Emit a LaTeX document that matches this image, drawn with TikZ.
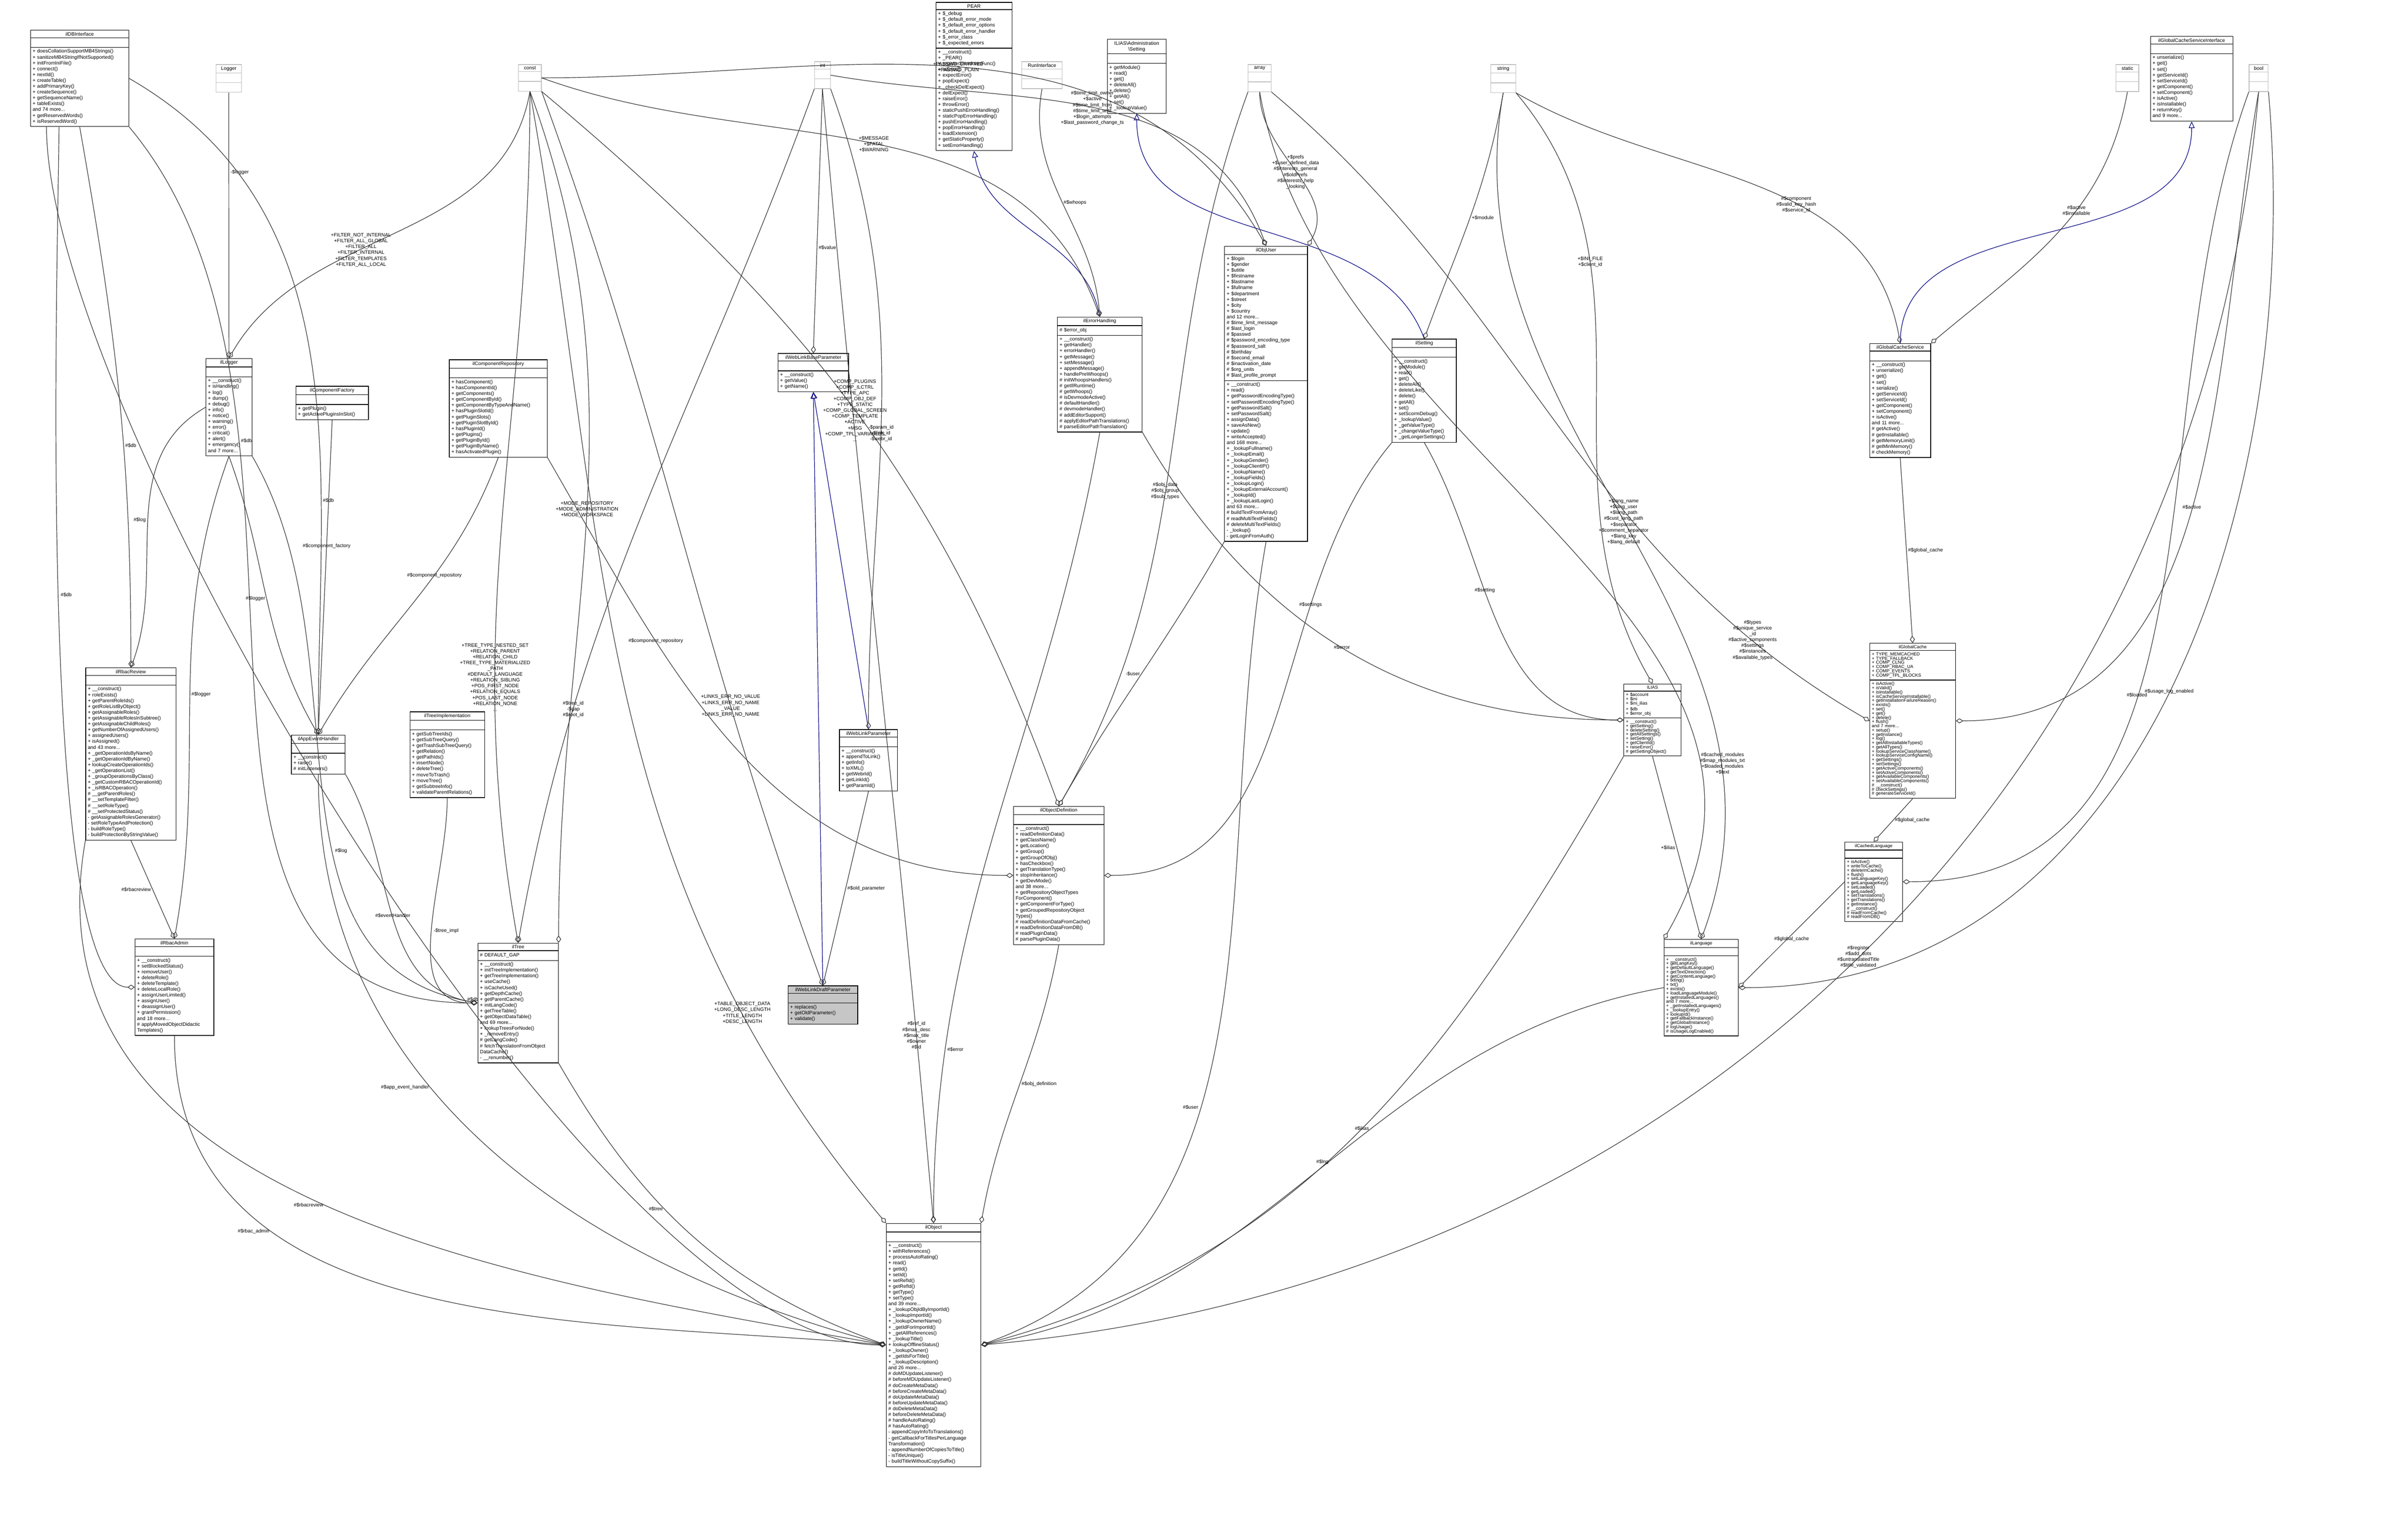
\documentclass[tikz,border=0pt]{standalone}
\usepackage{fontspec}
\setmainfont{Liberation Sans}
\usetikzlibrary{arrows.meta,shapes.multipart,positioning}

\newcommand{\dox}{\fontsize{3.4}{4.0}\selectfont}
\newcommand{\doxs}{\fontsize{3.1}{2.9}\selectfont}
% a class box: name, x, y, width, title, attributes, operations
\newcommand{\umlclass}[8][]{%
\node[cls,#1,text width=#5] (#2) at (#3,#4) {\centering #6\par\nodepart{two}#7\strut\nodepart{three}#8\strut};}

\begin{document}
\begin{tikzpicture}
[font=\dox,
% STYLES
cls/.style={rectangle split, rectangle split parts=3, draw, anchor=north west, align=left, inner xsep=0.05cm, inner ysep=0.04cm, fill=white},
% external types drawn in grey
ext/.style={draw=gray!50},
% the class the diagram is about
focus/.style={fill=gray!45},
% boxes set with tighter lines
small/.style={font=\doxs},
% aggregation and inheritance links
agg/.style={draw=black!80, -{Diamond[open,length=5pt,width=3.4pt]}},
inh/.style={draw=blue!50!black, -{Triangle[open,length=4.5pt,width=4pt]}},
lbl/.style={align=center, inner sep=1pt}]

\useasboundingbox (0,0) rectangle (58.08,-36.63);

% Draw classes
\umlclass{dbi}{0.73}{-0.72}{2.27cm}{ilDBInterface}{}{+ doesCollationSupportMB4Strings()\\+ sanitizeMB4StringIfNotSupported()\\+ initFromIniFile()\\+ connect()\\+ nextId()\\+ createTable()\\+ addPrimaryKey()\\+ createSequence()\\+ getSequenceName()\\+ tableExists()\\and 74 more...\\+ getReservedWords()\\+ isReservedWord()}
\umlclass[ext]{logger}{5.20}{-1.55}{0.52cm}{Logger}{}{}
\umlclass{illogger}{4.96}{-8.64}{1.01cm}{ilLogger}{}{+ \_\_construct()\\+ isHandling()\\+ log()\\+ dump()\\+ debug()\\+ info()\\+ notice()\\+ warning()\\+ error()\\+ critical()\\+ alert()\\+ emergency()\\and 7 more...}
\umlclass{compfactory}{7.13}{-9.31}{1.65cm}{ilComponentFactory}{}{+ getPlugin()\\+ getActivePluginsInSlot()}
\umlclass[ext]{const}{12.50}{-1.55}{0.45cm}{const}{}{}
\umlclass{comprepo}{10.83}{-8.67}{2.26cm}{ilComponentRepository}{}{+ hasComponent()\\+ hasComponentId()\\+ getComponents()\\+ getComponentById()\\+ getComponentByTypeAndName()\\+ hasPluginSlotId()\\+ getPluginSlots()\\+ getPluginSlotById()\\+ hasPluginId()\\+ getPlugins()\\+ getPluginById()\\+ getPluginByName()\\+ hasActivatedPlugin()}
\umlclass{rbacreview}{2.06}{-16.10}{2.08cm}{ilRbacReview}{}{+ \_\_construct()\\+ roleExists()\\+ getParentRoleIds()\\+ getRoleListByObject()\\+ getAssignableRoles()\\+ getAssignableRolesInSubtree()\\+ getAssignableChildRoles()\\+ getNumberOfAssignedUsers()\\+ assignedUsers()\\+ isAssigned()\\and 43 more...\\+ \_getOperationIdsByName()\\+ \_getOperationIdByName()\\+ lookupCreateOperationIds()\\+ \_getOperationList()\\+ \_groupOperationsByClass()\\+ \_getCustomRBACOperationId()\\+ \_isRBACOperation()\\\# \_\_getParentRoles()\\\# \_\_setTemplateFilter()\\\# \_\_setRoleType()\\\# \_\_setProtectedStatus()\\- getAssignableRolesGenerator()\\- setRoleTypeAndProtection()\\- buildRoleType()\\- buildProtectionByStringValue()}
\umlclass{rbacadmin}{3.25}{-22.64}{1.80cm}{ilRbacAdmin}{}{+ \_\_construct()\\+ setBlockedStatus()\\+ removeUser()\\+ deleteRole()\\+ deleteTemplate()\\+ deleteLocalRole()\\+ assignUserLimited()\\+ assignUser()\\+ deassignUser()\\+ grantPermission()\\and 18 more...\\\# applyMovedObjectDidactic\\Templates()}
\umlclass{appevent}{7.02}{-17.72}{1.20cm}{ilAppEventHandler}{}{+ \_\_construct()\\+ raise()\\\# initListeners()}
\umlclass{treeimpl}{9.88}{-17.16}{1.70cm}{ilTreeImplementation}{}{+ getSubTreeIds()\\+ getSubTreeQuery()\\+ getTrashSubTreeQuery()\\+ getRelation()\\+ getPathIds()\\+ insertNode()\\+ deleteTree()\\+ moveToTrash()\\+ moveTree()\\+ getSubtreeInfo()\\+ validateParentRelations()}
\umlclass{tree}{11.52}{-22.74}{1.84cm}{ilTree}{\# DEFAULT\_GAP}{+ \_\_construct()\\+ initTreeImplementation()\\+ getTreeImplementation()\\+ useCache()\\+ isCacheUsed()\\+ getDepthCache()\\+ getParentCache()\\+ initLangCode()\\+ getTreeTable()\\+ getObjectDataTable()\\and 69 more...\\+ lookupTreesForNode()\\+ \_removeEntry()\\\# getLangCode()\\\# fetchTranslationFromObject\\DataCache()\\- \_\_renumber()}
\umlclass[ext]{int}{19.64}{-1.48}{0.28cm}{int}{}{}
\umlclass{wlbase}{18.76}{-8.52}{1.60cm}{ilWebLinkBaseParameter}{}{+ \_\_construct()\\+ getValue()\\+ getName()}
\umlclass{wlparam}{20.24}{-17.59}{1.30cm}{ilWebLinkParameter}{}{+ \_\_construct()\\+ appendToLink()\\+ getInfo()\\+ toXML()\\+ getWebrId()\\+ getLinkId()\\+ getParamId()}
\umlclass[focus]{wldraft}{19.00}{-23.77}{1.58cm}{ilWebLinkDraftParameter}{}{+ replaces()\\+ getOldParameter()\\+ validate()}
\umlclass{object}{21.37}{-29.50}{2.18cm}{ilObject}{}{+ \_\_construct()\\+ withReferences()\\+ processAutoRating()\\+ read()\\+ getId()\\+ setId()\\+ setRefId()\\+ getRefId()\\+ getType()\\+ setType()\\and 39 more...\\+ \_lookupObjIdByImportId()\\+ \_lookupImportId()\\+ \_lookupOwnerName()\\+ \_getIdForImportId()\\+ \_getAllReferences()\\+ \_lookupTitle()\\+ lookupOfflineStatus()\\+ \_lookupOwner()\\+ \_getIdsForTitle()\\+ \_lookupDescription()\\and 26 more...\\\# doMDUpdateListener()\\\# beforeMDUpdateListener()\\\# doCreateMetaData()\\\# beforeCreateMetaData()\\\# doUpdateMetaData()\\\# beforeUpdateMetaData()\\\# doDeleteMetaData()\\\# beforeDeleteMetaData()\\\# handleAutoRating()\\\# hasAutoRating()\\- appendCopyInfoToTranslations()\\- getCallbackForTitlesPerLanguage\\Transformation()\\- appendNumberOfCopiesToTitle()\\- isTitleUnique()\\- buildTitleWithoutCopySuffix()}
\umlclass{pear}{22.57}{-0.05}{1.73cm}{PEAR}{+ \$\_debug\\+ \$\_default\_error\_mode\\+ \$\_default\_error\_options\\+ \$\_default\_error\_handler\\+ \$\_error\_class\\+ \$\_expected\_errors}{+ \_\_construct()\\+ \_PEAR()\\+ registerShutdownFunc()\\+ isError()\\+ expectError()\\+ popExpect()\\+ \_checkDelExpect()\\+ delExpect()\\+ raiseError()\\+ throwError()\\+ staticPushErrorHandling()\\+ staticPopErrorHandling()\\+ pushErrorHandling()\\+ popErrorHandling()\\+ loadExtension()\\+ getStaticProperty()\\+ setErrorHandling()}
\umlclass[ext]{runif}{24.64}{-1.48}{0.87cm}{RunInterface}{}{}
\umlclass{admsetting}{26.70}{-0.94}{1.32cm}{ILIAS\textbackslash Administration\\\textbackslash Setting}{}{+ getModule()\\+ read()\\+ get()\\+ deleteAll()\\+ delete()\\+ getAll()\\+ set()\\+ \_lookupValue()}
\umlclass{errhandling}{25.50}{-7.64}{1.94cm}{ilErrorHandling}{\# \$error\_obj}{+ \_\_construct()\\+ getHandler()\\+ errorHandler()\\+ getMessage()\\+ setMessage()\\+ appendMessage()\\+ handlePreWhoops()\\\# initWhoopsHandlers()\\\# getIlRuntime()\\\# getWhoops()\\\# isDevmodeActive()\\\# defaultHandler()\\\# devmodeHandler()\\\# addEditorSupport()\\\# applyEditorPathTranslations()\\\# parseEditorPathTranslation()}
\umlclass{objdef}{24.44}{-19.44}{2.08cm}{ilObjectDefinition}{}{+ \_\_construct()\\+ readDefinitionData()\\+ getClassName()\\+ getLocation()\\+ getGroup()\\+ getGroupOfObj()\\+ hasCheckbox()\\+ getTranslationType()\\+ stopInheritance()\\+ getDevMode()\\and 38 more...\\+ getRepositoryObjectTypes\\ForComponent()\\+ getComponentForType()\\+ getGroupedRepositoryObject\\Types()\\\# readDefinitionDataFromCache()\\\# readDefinitionDataFromDB()\\\# readPluginData()\\\# parsePluginData()}
\umlclass[ext]{array}{30.10}{-1.55}{0.45cm}{array}{}{}
\umlclass{objuser}{29.53}{-5.93}{1.90cm}{ilObjUser}{+ \$login\\+ \$gender\\+ \$utitle\\+ \$firstname\\+ \$lastname\\+ \$fullname\\+ \$department\\+ \$street\\+ \$city\\+ \$country\\and 12 more...\\\# \$time\_limit\_message\\\# \$last\_login\\\# \$passwd\\\# \$password\_encoding\_type\\\# \$password\_salt\\\# \$birthday\\\# \$second\_email\\\# \$inactivation\_date\\\# \$org\_units\\\# \$last\_profile\_prompt}{+ \_\_construct()\\+ read()\\+ getPasswordEncodingType()\\+ setPasswordEncodingType()\\+ getPasswordSalt()\\+ setPasswordSalt()\\+ assignData()\\+ saveAsNew()\\+ update()\\+ writeAccepted()\\and 168 more...\\+ \_lookupFullname()\\+ \_lookupEmail()\\+ \_lookupGender()\\+ \_lookupClientIP()\\+ \_lookupName()\\+ \_lookupFields()\\+ \_lookupLogin()\\+ \_lookupExternalAccount()\\+ \_lookupId()\\+ \_lookupLastLogin()\\and 63 more...\\\# buildTextFromArray()\\\# readMultiTextFields()\\\# deleteMultiTextFields()\\- \_lookup()\\- getLoginFromAuth()}
\umlclass[ext]{string}{35.95}{-1.55}{0.50cm}{string}{}{}
\umlclass{setting}{33.57}{-8.17}{1.45cm}{ilSetting}{}{+ \_\_construct()\\+ getModule()\\+ read()\\+ get()\\+ deleteAll()\\+ deleteLike()\\+ delete()\\+ getAll()\\+ set()\\+ setScormDebug()\\+ \_lookupValue()\\+ \_getValueType()\\+ \_changeValueType()\\+ \_getLongerSettings()}
\umlclass[small]{ilias}{39.16}{-16.49}{1.28cm}{ILIAS}{+ \$account\\+ \$ini\\+ \$ini\_ilias\\+ \$db\\+ \$error\_obj}{+ \_\_construct()\\+ getSetting()\\+ deleteSetting()\\+ getAllSettings()\\+ setSetting()\\+ getClientId()\\+ raiseError()\\\# getSettingObject()}
\umlclass{gcservice}{45.09}{-8.28}{1.37cm}{ilGlobalCacheService}{}{+ \_\_construct()\\+ unserialize()\\+ get()\\+ set()\\+ serialize()\\+ getServiceId()\\+ setServiceId()\\+ getComponent()\\+ setComponent()\\+ isActive()\\and 11 more...\\\# getActive()\\\# getInstallable()\\\# getMemoryLimit()\\\# getMinMemory()\\\# checkMemory()}
\umlclass[small]{gcache}{45.09}{-15.51}{1.97cm}{ilGlobalCache}{+ TYPE\_MEMCACHED\\+ TYPE\_FALLBACK\\+ COMP\_CLNG\\+ COMP\_RBAC\_UA\\+ COMP\_EVENTS\\+ COMP\_TPL\_BLOCKS}{+ isActive()\\+ isValid()\\+ isInstallable()\\+ isCacheServiceInstallable()\\+ getInstallationFailureReason()\\+ exists()\\+ set()\\+ get()\\+ delete()\\+ flush()\\and 7 more...\\+ setup()\\+ getInstance()\\+ log()\\+ getAllInstallableTypes()\\+ getAllTypes()\\+ lookupServiceClassName()\\+ lookupServiceConfigName()\\+ getSettings()\\+ setSettings()\\+ getActiveComponents()\\+ setActiveComponents()\\+ getAvailableComponents()\\+ setAvailableComponents()\\\# \_\_construct()\\\# checkSettings()\\\# generateServiceId()}
\umlclass[small]{cachedlang}{44.49}{-20.30}{1.29cm}{ilCachedLanguage}{}{+ isActive()\\+ writeToCache()\\+ deleteInCache()\\+ flush()\\+ setLanguageKey()\\+ getLanguageKey()\\+ setLoaded()\\+ getLoaded()\\+ setTranslations()\\+ getTranslations()\\+ getInstance()\\\# \_\_construct()\\\# readFromCache()\\\# readFromDB()}
\umlclass[small]{language}{40.13}{-22.65}{1.69cm}{ilLanguage}{}{+ \_\_construct()\\+ getLangKey()\\+ getDefaultLanguage()\\+ getTextDirection()\\+ getContentLanguage()\\+ txtlng()\\+ txt()\\+ exists()\\+ loadLanguageModule()\\+ getInstalledLanguages()\\and 7 more...\\+ \_getInstalledLanguages()\\+ \_lookupEntry()\\+ lookupId()\\+ getFallbackInstance()\\+ getGlobalInstance()\\\# logUsage()\\\# isUsageLogEnabled()}
\umlclass{gcsiface}{51.86}{-0.87}{1.89cm}{ilGlobalCacheServiceInterface}{}{+ unserialize()\\+ get()\\+ set()\\+ getServiceId()\\+ setServiceId()\\+ getComponent()\\+ setComponent()\\+ isActive()\\+ isInstallable()\\+ returnKey()\\and 9 more...}
\umlclass[ext]{static}{51.03}{-1.55}{0.45cm}{static}{}{}
\umlclass[ext]{bool}{54.24}{-1.55}{0.36cm}{bool}{}{}

% Draw inheritance
\draw[inh] (wlparam.north) -- (wlbase.south);
\draw[inh] (wldraft.north) -- (wlbase.south);
\draw[inh] (errhandling.north) to[out=100,in=-80] (pear.south);
\draw[inh] (setting.north) to[out=110,in=-90] (admsetting.south);
\draw[inh] (gcservice.north) to[out=90,in=-90] (gcsiface.south);

% Draw aggregations
\draw[agg] (logger.south) -- node[lbl,right,pos=0.3]{-\$logger} (illogger.north);
\draw[agg] (dbi.south) to[out=-80,in=90] node[lbl,pos=0.6,right]{\#\$db} (rbacreview.north);
\draw[agg] ([xshift=-0.5cm]dbi.south) to[out=-90,in=180,looseness=0.3] node[lbl,pos=0.5,right]{\#\$db} (rbacadmin.west);
\draw[agg] ([xshift=-0.8cm]dbi.south) to[out=-90,in=180,looseness=0.5] node[lbl,pos=0.6,right]{\#\$db} (object.west);
\draw[agg] (dbi.south east) to[out=-50,in=180] node[lbl,pos=0.3,right]{\#\$db} (tree.west);
\draw[agg] (dbi.east) to[out=-30,in=90] node[lbl,pos=0.7,right]{\#\$db} (appevent.north);
\draw[agg] (illogger.south) to[out=-70,in=120] node[lbl,pos=0.5,left]{\#\$logger} (appevent.north);
\draw[agg] (illogger.south) to[out=-110,in=80] node[lbl,pos=0.5,right]{\#\$logger} (rbacadmin.north);
\draw[agg] (illogger.west) to[out=-150,in=70] node[lbl,pos=0.5,left]{\#\$log} (rbacreview.north);
\draw[agg] (illogger.south east) to[out=-60,in=170] node[lbl,pos=0.6,right]{\#\$log} (tree.west);
\draw[agg] (compfactory.south) -- node[lbl,pos=0.4]{\#\$component\_factory} (appevent.north);
\draw[agg] (comprepo.south) to[out=-110,in=60] node[lbl,pos=0.4]{\#\$component\_repository} (appevent.north);
\draw[agg] (comprepo.south east) to[out=-60,in=180] node[lbl,pos=0.3]{\#\$component\_repository} (objdef.west);
\draw[agg] (rbacreview.south) -- node[lbl,pos=0.5,left]{\#\$rbacreview} (rbacadmin.north);
\draw[agg] (rbacreview.south west) to[out=-100,in=170] node[lbl,pos=0.5,left]{\#\$rbacreview} (object.west);
\draw[agg] (rbacadmin.south) to[out=-90,in=175] node[lbl,pos=0.3,left]{\#\$rbac\_admin} (object.west);
\draw[agg] (appevent.south east) to[out=-60,in=170] node[lbl,pos=0.5]{\#\$eventHandler} (tree.west);
\draw[agg] (appevent.south) to[out=-90,in=165] node[lbl,pos=0.4,left]{\#\$app\_event\_handler} (object.west);
\draw[agg] (treeimpl.south) to[out=-90,in=180] node[lbl,pos=0.5,right]{-\$tree\_impl} (tree.west);
\draw[agg] (tree.south east) to[out=-60,in=160] node[lbl,pos=0.4,left]{\#\$tree} (object.west);
\draw[agg] (wlparam.south) -- node[lbl,pos=0.5,right]{\#\$old\_parameter} (wldraft.north);
\draw[agg] (int.south) -- node[lbl,pos=0.6,right]{\#\$value} (wlbase.north);
\draw[agg] (int.south east) to[out=-70,in=90] node[lbl,pos=0.55]{-\$param\_id\\-\$link\_id\\-\$webr\_id} (wlparam.north);
\draw[agg] (int.south west) to[out=-110,in=80] node[lbl,pos=0.75]{\#\$tree\_id\\-\$gap\\\#\$root\_id} (tree.north);
\draw[agg] (int.south) to[out=-85,in=95] node[lbl,pos=0.85]{\#\$ref\_id\\\#\$max\_desc\\\#\$max\_title\\\#\$owner\\\#\$id} (object.north);
\draw[agg] (int.east) to[out=-10,in=110] node[lbl,pos=0.5]{\#\$time\_limit\_owner\\+\$active\\\#\$time\_limit\_from\\\#\$time\_limit\_until\\+\$login\_attempts\\+\$last\_password\_change\_ts} (objuser.north);
\draw[agg] (runif.south) to[out=-100,in=95] node[lbl,pos=0.5,right]{\#\$whoops} (errhandling.north);
\draw[agg] (errhandling.south) to[out=-100,in=90] node[lbl,pos=0.8,right]{\#\$error} (object.north);
\draw[agg] (errhandling.south east) to[out=-60,in=180] node[lbl,pos=0.5]{\#\$error} (ilias.west);
\draw[agg] (objdef.south) to[out=-100,in=80] node[lbl,pos=0.5,right]{\#\$obj\_definition} (object.north east);
\draw[agg] (objuser.south) to[out=-100,in=20] node[lbl,pos=0.6,left]{\#\$user} (object.east);
\draw[agg] (objuser.south west) to[out=-120,in=60] node[lbl,pos=0.5,left]{-\$user} (objdef.north);
\draw[agg] (setting.south) to[out=-60,in=180] node[lbl,pos=0.4]{\#\$setting} (ilias.west);
\draw[agg] (setting.south west) to[out=-130,in=0] node[lbl,pos=0.3]{\#\$settings} (objdef.east);
\draw[agg] (ilias.south) -- node[lbl,pos=0.5,left]{+\$ilias} (language.north);
\draw[agg] (ilias.south west) to[out=-120,in=15] node[lbl,pos=0.5]{\#\$ilias} (object.east);
\draw[agg] (gcservice.south) -- node[lbl,pos=0.5,right]{\#\$global\_cache} (gcache.north);
\draw[agg] (gcache.south) -- node[lbl,pos=0.5,right]{\#\$global\_cache} (cachedlang.north);
\draw[agg] (cachedlang.west) -- node[lbl,pos=0.5,below]{\#\$global\_cache} (language.east);
\draw[agg] (language.west) to[out=-170,in=10] node[lbl,pos=0.5,above]{\#\$lng} (object.east);
\draw[agg] (string.south) to[out=-100,in=70] node[lbl,pos=0.5]{+\$lang\_name\\+\$lang\_user\\+\$lang\_path\\\#\$cust\_lang\_path\\+\$separator\\+\$comment\_separator\\+\$lang\_key\\+\$lang\_default} (language.north);
\draw[agg] (string.south) to[out=-100,in=70] node[lbl,pos=0.5,right]{+\$module} (setting.north);
\draw[agg] (string.south east) to[out=-30,in=100] node[lbl,pos=0.6]{\#\$component\\\#\$valid\_key\_hash\\\#\$service\_id} (gcservice.north);
\draw[agg] (string.south east) to[out=-50,in=120] node[lbl,pos=0.3]{+\$INI\_FILE\\+\$client\_id} (ilias.north);
\draw[agg] (array.south) to[out=-90,in=60] node[lbl,pos=0.5]{+\$prefs\\+\$user\_defined\_data\\\#\$interests\_general\\\#\$oldPrefs\\\#\$interests\_help\\\_looking} (objuser.north east);
\draw[agg] (array.south west) to[out=-110,in=60] node[lbl,pos=0.55]{\#\$obj\_data\\\#\$obj\_group\\\#\$sub\_types} (objdef.north);
\draw[agg] (array.south east) to[out=-40,in=150] node[lbl,pos=0.85]{\#\$types\\\#\$unique\_service\\\_id\\\#\$active\_components\\\#\$settings\\\#\$instances\\\#\$available\_types} (gcache.west);
\draw[agg] (array.south) to[out=-80,in=60] node[lbl,pos=0.8,right]{\#\$cached\_modules\\\#\$map\_modules\_txt\\+\$loaded\_modules\\+\$text} (language.north west);
\draw[agg] (static.south) to[out=-100,in=40] node[lbl,pos=0.4]{\#\$active\\\#\$installable} (gcservice.north east);
\draw[agg] (bool.south) to[out=-95,in=5] node[lbl,pos=0.5]{\#\$register\\\#\$add\_dots\\\#\$untranslatedTitle\\\#\$title\_validated} (object.east);
\draw[agg] (bool.south west) to[out=-110,in=0] node[lbl,pos=0.6]{\#\$loaded} (cachedlang.east);
\draw[agg] (bool.south) to[out=-100,in=0] node[lbl,pos=0.5]{\#\$active} (gcache.east);
\draw[agg] (bool.south east) to[out=-85,in=0] node[lbl,pos=0.5]{\#\$usage\_log\_enabled} (language.east);
\draw[agg] (const.south) to[out=-100,in=60] node[lbl,pos=0.6]{+FILTER\_NOT\_INTERNAL\\+FILTER\_ALL\_GLOBAL\\+FILTER\_ALL\\+FILTER\_INTERNAL\\+FILTER\_TEMPLATES\\+FILTER\_ALL\_LOCAL} (illogger.north);
\draw[agg] (const.south) to[out=-90,in=100] node[lbl,pos=0.7]{+TREE\_TYPE\_NESTED\_SET\\+RELATION\_PARENT\\+RELATION\_CHILD\\+TREE\_TYPE\_MATERIALIZED\\\_PATH\\\#DEFAULT\_LANGUAGE\\+RELATION\_SIBLING\\+POS\_FIRST\_NODE\\+RELATION\_EQUALS\\+POS\_LAST\_NODE\\+RELATION\_NONE\\...} (tree.north);
\draw[agg] (const.south) to[out=-80,in=130] node[lbl,pos=0.8]{+TABLE\_OBJECT\_DATA\\+LONG\_DESC\_LENGTH\\+TITLE\_LENGTH\\+DESC\_LENGTH} (object.north west);
\draw[agg] (const.south east) to[out=-70,in=110] node[lbl,pos=0.7]{+LINKS\_ERR\_NO\_VALUE\\+LINKS\_ERR\_NO\_NAME\\\_VALUE\\+LINKS\_ERR\_NO\_NAME} (wldraft.north);
\draw[agg] (const.east) to[out=-20,in=110] node[lbl,pos=0.5]{+\$MESSAGE\\+\$FATAL\\+\$WARNING} (errhandling.north);
\draw[agg] (const.east) to[out=0,in=120] node[lbl,pos=0.5]{+PASSWD\_CRYPTED\\+PASSWD\_PLAIN} (objuser.north);
\draw[agg] (const.south east) to[out=-40,in=110] node[lbl,pos=0.5]{+COMP\_PLUGINS\\+COMP\_ILCTRL\\+TYPE\_APC\\+COMP\_OBJ\_DEF\\+TYPE\_STATIC\\+COMP\_GLOBAL\_SCREEN\\+COMP\_TEMPLATE\\+ACTIVE\\+MSG\\+COMP\_TPL\_VARIABLES\\...} (objdef.north);
\draw[agg] (const.south) to[out=-70,in=90] node[lbl,pos=0.5]{+MODE\_REPOSITORY\\+MODE\_ADMINISTRATION\\+MODE\_WORKSPACE} (tree.north east);

\end{tikzpicture}
\end{document}
